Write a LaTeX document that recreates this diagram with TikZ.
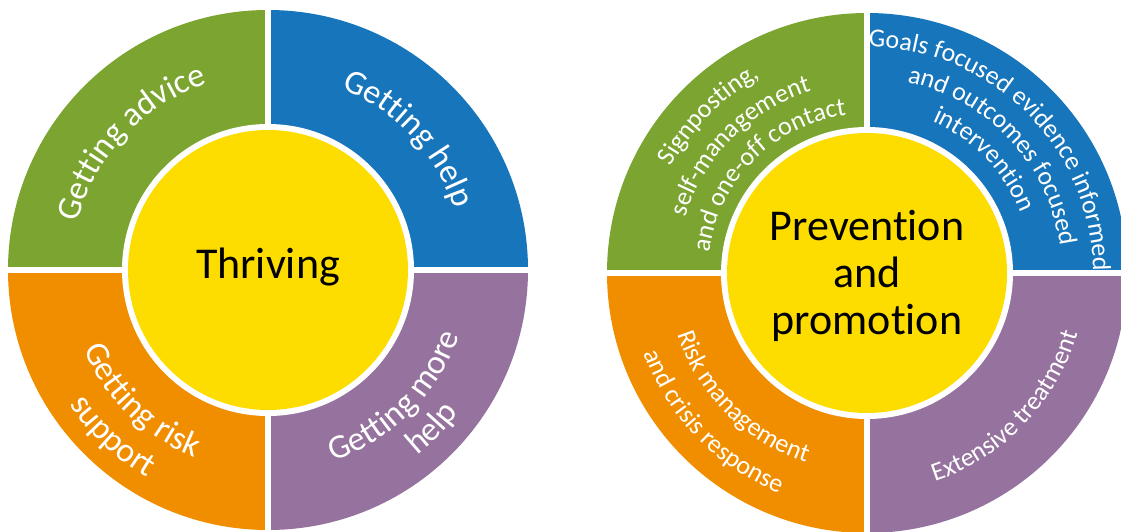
\documentclass[tikz,border=0pt]{standalone}
\usepackage{fontspec}
\setmainfont{Carlito}[Ligatures=NoCommon]
\usetikzlibrary{calc, decorations.text}
\definecolor{ringgreen}{RGB}{123,165,48}
\definecolor{ringblue}{RGB}{23,117,188}
\definecolor{ringorange}{RGB}{241,142,0}
\definecolor{ringpurple}{RGB}{150,115,158}
\definecolor{hubyellow}{RGB}{253,220,0}
\newcommand{\fontL}{\fontsize{34pt}{34pt}\selectfont}
\newcommand{\fontR}{\fontsize{26pt}{26pt}\selectfont}
\newcommand{\fontHub}{\fontsize{44pt}{47pt}\selectfont}
% text on an arc: centre, radius, from angle, to angle, font, text
\newcommand{\ArcText}[6]{%
  \path[decorate, decoration={text along path, text align=center, text color=white,
      text={|#5|#6}}]
    ($(#1)+(#3:#2pt)$) arc[start angle=#3, end angle=#4, radius=#2pt];}

\begin{document}
\begin{tikzpicture}[x=1pt, y=1pt]
    \useasboundingbox (0,0) rectangle (1121,531);
    \coordinate (cL) at (268,261);
    \coordinate (cR) at (867,258);

    % Draw rings
    \foreach \c in {cL, cR} {
        \foreach \col/\a in {ringblue/0, ringgreen/90, ringorange/180, ringpurple/270}
            \fill[\col] (\c) -- ++(\a:260pt) arc[start angle=\a, delta angle=90, radius=260pt] -- cycle;
        \draw[white, line width=6pt] ($(\c)+(0,-265)$) -- ($(\c)+(0,265)$);
        \draw[white, line width=6pt] ($(\c)+(-265,0)$) -- ($(\c)+(265,0)$);
        \fill[white] (\c) circle[radius=146pt];
        \fill[hubyellow] (\c) circle[radius=140pt];
    }

    % Hubs
    \node[font=\fontHub, anchor=base] (thriving) at ($(cL)+(0,-8)$) {Thriving};
    \node[font=\fontHub, align=center] (prevention) at ($(cR)+(0,-3)$) {Prevention\\and\\promotion};

    % Left ring
    \ArcText{cL}{196}{197}{77}{\fontL}{Getting advice}
    \ArcText{cL}{196}{103}{-17}{\fontL}{Getting help}
    \ArcText{cL}{201}{166}{286}{\fontL}{Getting risk}
    \ArcText{cL}{240}{167}{287}{\fontL}{support}
    \ArcText{cL}{202}{255}{375}{\fontL}{Getting more}
    \ArcText{cL}{238}{256}{376}{\fontL}{help}

    % Right ring
    \ArcText{cR}{223}{195}{75}{\fontR}{Signposting,}
    \ArcText{cR}{190}{195}{75}{\fontR}{self-management}
    \ArcText{cR}{159}{195}{75}{\fontR}{and one-off contact}
    \ArcText{cR}{226}{105}{-15}{\fontR}{Goals focused evidence informed}
    \ArcText{cR}{195}{103}{-17}{\fontR}{and outcomes focused}
    \ArcText{cR}{165}{104}{-16}{\fontR}{intervention}
    \ArcText{cR}{199}{165}{285}{\fontR}{Risk management}
    \ArcText{cR}{237}{164}{284}{\fontR}{and crisis response}
    \ArcText{cR}{219}{256}{376}{\fontR}{Extensive treatment}
\end{tikzpicture}
\end{document}
